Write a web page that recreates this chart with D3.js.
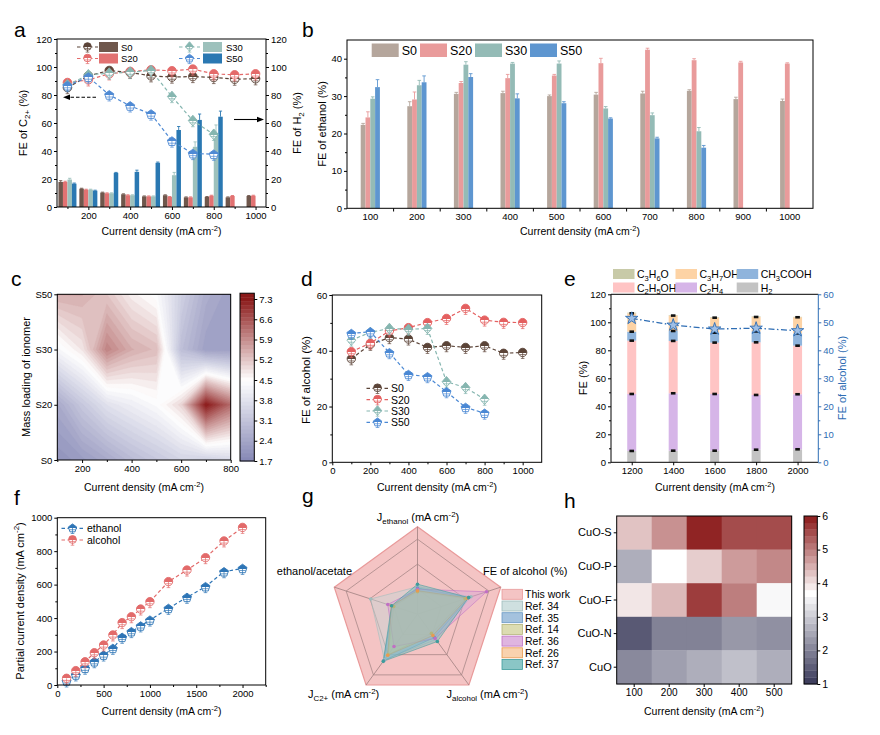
<!DOCTYPE html>
<html><head><meta charset="utf-8">
<script src="https://cdn.jsdelivr.net/npm/d3@7/dist/d3.min.js"></script>
<style>
body{margin:0;background:#fff;}
svg{display:block;}
text{font-family:"Liberation Sans",Arial,Helvetica,sans-serif;}
</style></head><body>
<svg id="fig" width="880" height="735" xmlns="http://www.w3.org/2000/svg"></svg>
<script>
// ================= DATA =================
// Panel a
const aX = [100,200,300,400,500,600,700,800,900,1000];
const aC2S0  = [85.3,93.7,97.5,96.1,93.7,92.8,93.2,92.5,91.3,91.6];
const aC2S20 = [88.9,90.8,95.1,96.8,98.0,97.3,98.5,95.1,94.4,95.1];
const aC2S30 = [87.2,94.4,95.6,96.3,97.5,78.9,61.7,51.9];
const aC2S50 = [86.7,92.8,80.1,72.2,66.4,47.1,38.2,37.7];
const aH2S0  = [17.9,13.1,10.3,9.1,7.6,8.4,6.9,7.2,6.9,7.9];
const aH2S20 = [17.9,12.4,9.8,8.4,7.6,7.2,6.9,8.1,7.9,8.1];
const aH2S30 = [19.6,12.4,9.8,8.4,7.6,22.7,43.0,52.6];
const aH2S50 = [16.7,11.7,24.4,25.1,31.6,55.0,62.2,64.5];
const aH2ErrS0  = [0.9,0.3,0.3,0.3,0.3,0.3,0.3,0.3,0.3,0.3];
const aH2ErrS20 = [0.5,0.3,0.3,0.3,0.3,0.3,0.3,0.3,0.3,0.3];
const aH2ErrS30 = [0.9,0.3,0.3,0.3,0.3,2.0,3.5,6.0];
const aH2ErrS50 = [0.4,0.3,0.3,1.2,0.5,2.5,4.2,4.0];
// Panel b
const bCats = ["100","200","300","400","500","600","700","800","900","1000"];
const bS0  = [22.3,27.3,30.6,30.8,30.0,30.4,30.7,31.4,29.2,28.7];
const bS20 = [24.3,29.1,33.5,34.8,35.5,38.8,42.4,39.6,39.0,38.7];
const bS30 = [29.3,32.9,38.4,38.7,38.7,26.7,24.9,20.6];
const bS50 = [32.4,33.7,35.1,29.4,28.1,24.0,18.7,16.2];
const bErrS0  = [0.4,1.2,0.4,0.5,0.3,0.6,0.6,0.3,0.5,0.5];
const bErrS20 = [1.5,2.0,0.4,1.0,0.3,1.3,0.4,0.4,0.3,0.2];
const bErrS30 = [0.5,1.3,0.8,0.3,0.7,0.5,0.6,1.0];
const bErrS50 = [2.0,1.7,0.9,1.2,0.4,0.2,0.3,0.6];
// Panel c (rows S0, S20, S30, S50; columns 100..800)
const cX = [100,200,300,400,500,600,700,800];
const cRows = ["S0","S20","S30","S50"];
const cZS0  = [2.0,2.2,2.5,2.9,3.2,3.5,3.4,3.6];
const cZS20 = [2.5,3.2,3.8,4.1,4.4,5.0,7.3,6.3];
const cZS30 = [4.3,4.8,6.0,5.5,5.3,3.0,2.3,2.3];
const cZS50 = [5.5,5.5,5.2,4.7,4.4,3.4,2.6,2.3];
const cBarTicks = [1.7,2.4,3.1,3.8,4.5,5.2,5.9,6.6,7.3];
// Panel d
const dX = [100,200,300,400,500,600,700,800,900,1000];
const dS0  = [37.1,42.3,44.7,44.2,41.2,41.8,41.2,41.8,39.1,39.4];
const dS20 = [39.7,42.7,47.1,48.3,50.1,51.6,55.2,51.0,50.2,50.1];
const dS30 = [43.8,46.6,48.0,47.7,48.0,28.9,26.8,22.6];
const dS50 = [46.2,46.8,39.3,31.5,30.7,25.3,19.7,17.6];
// Panel e
const eX = [1200,1400,1600,1800,2000];
const eH2      = [8.1,8.3,8.3,9.0,9.3];
const eC2H4    = [40.7,41.0,40.5,39.1,39.3];
const eC2H5OH  = [38.1,37.4,36.7,37.6,34.7];
const eCH3COOH = [6.4,7.1,7.1,7.8,8.8];
const eC3H7OH  = [13.1,11.0,10.7,10.3,11.5];
const eC3H6O   = [0.5,0.4,0.4,0.4,0.3];
const eAlcohol = [51.4,49.0,47.6,47.9,47.0];
// Panel f
const fX = [100,200,300,400,500,600,700,800,900,1000,1200,1400,1600,1800,2000];
const fEthanol = [24,60,100,139,179,219,285,319,353,388,458,524,588,677,697];
const fAlcohol = [40,86,139,193,239,299,373,408,454,498,618,687,761,861,942];
// Panel g (radar, grid ring = 1 unit)
const gThisWork = [3.5,3.5,3.5,3.5,3.5];
const gRef34 = [1.1,2.25,1.25,2.25,1.97];
const gRef35 = [1.05,2.15,1.15,2.3,1.05];
const gRef14 = [0.9,2.0,0.95,2.0,1.0];
const gRef36 = [1.0,2.9,1.2,1.6,1.25];
const gRef26 = [0.94,2.1,1.05,2.03,1.1];
const gRef37 = [1.2,2.15,1.35,2.33,1.09];
// Panel h
const hCols = ["100","200","300","400","500"];
const hRows = ["CuO-S","CuO-P","CuO-F","CuO-N","CuO"];
const hCuOS = [4.3,4.8,5.9,5.5,5.5];
const hCuOP = [2.6,3.7,4.2,4.7,4.9];
const hCuOF = [3.95,4.4,5.65,5.0,3.6];
const hCuON = [1.45,2.0,2.0,2.3,2.2];
const hCuO  = [2.1,2.4,2.6,2.85,2.6];
const hTicks = [1,2,3,4,5,6];

// ================= HELPERS =================
const svg = d3.select("#fig");
const defs = svg.append("defs");
const FS = 9.5;
const FONT = '"Liberation Sans",Arial,Helvetica,sans-serif';
const XT = [["Current density (mA cm","n"],["-2","sup"],[")","n"]];
const fmtD = d3.format("d");

function rich(t, parts, size){
  let shift = 0;
  parts.forEach(p=>{
    const s=p[0], k=p[1];
    const target = k==="sub" ? 0.28*size : (k==="sup" ? -0.38*size : 0);
    const ts = t.append("tspan").text(s).attr("dy",(target-shift).toFixed(2));
    if(k!=="n") ts.attr("font-size",(size*0.72).toFixed(2));
    shift = target;
  });
}
function label(g,x,y,parts,o={}){
  const size=o.size||10;
  const t=g.append("text").attr("x",x).attr("y",y).attr("font-size",size)
    .attr("text-anchor",o.anchor||"start").attr("fill",o.fill||"#000");
  if(o.rot!==undefined) t.attr("transform",`rotate(${o.rot},${x},${y})`);
  if(typeof parts==="string") t.text(parts); else rich(t,parts,size);
  return t;
}
function axis(g,gen,tx,ty,o={}){
  const col=o.color||"#000";
  const a=g.append("g").attr("transform",`translate(${tx},${ty})`).call(gen);
  a.selectAll("text").attr("font-size",o.size||FS).attr("fill",col).style("font-family",FONT);
  a.selectAll("line").attr("stroke",col);
  a.select(".domain").attr("stroke",col);
  if(o.noDomain) a.select(".domain").remove();
  return a;
}
function frame(g,x0,y0,x1,y1){
  g.append("rect").attr("x",x0).attr("y",y0).attr("width",x1-x0).attr("height",y1-y0)
    .attr("fill","none").attr("stroke","#000").attr("stroke-width",1);
}
function halfGrad(id,color){
  const lg=defs.append("linearGradient").attr("id",id).attr("x1",0).attr("y1",0).attr("x2",0).attr("y2",1);
  lg.append("stop").attr("offset","52%").attr("stop-color",color);
  lg.append("stop").attr("offset","52%").attr("stop-color","#fff");
  return `url(#${id})`;
}
function shapePath(shape,r){
  if(shape==="circle") return d3.symbol(d3.symbolCircle,Math.PI*r*r)();
  if(shape==="diamond") return `M0,${-r*1.25}L${r*1.05},0L0,${r*1.25}L${-r*1.05},0Z`;
  const pts=d3.range(5).map(k=>{const a=-Math.PI/2+k*2*Math.PI/5;return [r*1.12*Math.cos(a),r*1.12*Math.sin(a)+0.5];});
  return "M"+pts.map(p=>p[0].toFixed(2)+","+p[1].toFixed(2)).join("L")+"Z";
}
function marker(g,shape,x,y,color,fill,r){
  r=r||4.2;
  const m=g.append("g").attr("transform",`translate(${x},${y})`);
  m.append("path").attr("d",shapePath(shape,r)).attr("fill",fill).attr("stroke",color).attr("stroke-width",0.9);
  m.append("path").attr("d",`M0,0V${r+1.8}M-1.8,${r+1.8}H1.8M${-r*0.75},${r*0.5}H${r*0.75}`)
    .attr("stroke",color).attr("stroke-width",0.7).attr("fill","none");
}
function panelLetter(x,y,s){ svg.append("text").attr("x",x).attr("y",y).attr("font-size",21).text(s); }

// ================= PANEL a =================
{
const g=svg.append("g");
const x=d3.scaleLinear().domain([50,1050]).range([57,266]);
const y=d3.scaleLinear().domain([0,120]).range([207,39]);
const ser=[
 {k:"S0", c2:aC2S0, h2:aH2S0, er:aH2ErrS0, bar:"#6f574c",ln:"#5b4438",sh:"circle"},
 {k:"S20",c2:aC2S20,h2:aH2S20,er:aH2ErrS20,bar:"#e27272",ln:"#e46a6a",sh:"circle"},
 {k:"S30",c2:aC2S30,h2:aH2S30,er:aH2ErrS30,bar:"#9dc1bc",ln:"#86b6b0",sh:"diamond"},
 {k:"S50",c2:aC2S50,h2:aH2S50,er:aH2ErrS50,bar:"#2a78b2",ln:"#4f8ad4",sh:"pent"}
];
const bw=4.5;
ser.forEach((s,i)=>{
  const xs=j=>x(aX[j])-2*bw+i*bw;
  g.append("g").selectAll("rect").data(s.h2).join("rect")
   .attr("x",(d,j)=>xs(j)).attr("y",d=>y(d)).attr("width",bw).attr("height",d=>y(0)-y(d)).attr("fill",s.bar);
  g.append("g").selectAll("path").data(s.h2).join("path")
   .attr("d",(d,j)=>{const cx=xs(j)+bw/2,t=y(d+s.er[j]);return `M${cx},${y(d)}V${t}M${cx-1.6},${t}H${cx+1.6}`;})
   .attr("stroke",s.bar).attr("stroke-width",0.9).attr("fill","none");
});
ser.forEach((s,i)=>{
  s.fill=halfGrad("ga"+i,s.ln);
  g.append("path").datum(s.c2).attr("d",d3.line().x((d,j)=>x(aX[j])).y(d=>y(d)))
   .attr("fill","none").attr("stroke",s.ln).attr("stroke-width",1.2).attr("stroke-dasharray","3.5,2.5");
});
ser.forEach(s=>{ s.c2.forEach((d,j)=>marker(g,s.sh,x(aX[j]),y(d),s.ln,s.fill,4.3)); });
frame(g,57,39,266,207);
axis(g,d3.axisBottom(x).tickValues([200,400,600,800,1000]).tickFormat(fmtD).tickSize(3).tickSizeOuter(0).tickPadding(2),0,207,{noDomain:true});
axis(g,d3.axisBottom(x).tickValues([100,300,500,700,900]).tickSize(2).tickFormat(""),0,207,{noDomain:true});
axis(g,d3.axisLeft(y).tickValues(d3.range(0,121,20)).tickSize(3).tickPadding(2),57,0,{noDomain:true});
axis(g,d3.axisLeft(y).tickValues(d3.range(10,120,20)).tickSize(2).tickFormat(""),57,0,{noDomain:true});
axis(g,d3.axisRight(y).tickValues(d3.range(0,121,20)).tickSize(3).tickPadding(2),266,0,{noDomain:true});
axis(g,d3.axisRight(y).tickValues(d3.range(10,120,20)).tickSize(2).tickFormat(""),266,0,{noDomain:true});
// legend
const leg=[{s:ser[0],lx:77,sx:99,tx:121,y:47},{s:ser[1],lx:77,sx:99,tx:121,y:58.5},
           {s:ser[2],lx:179,sx:203,tx:226,y:47},{s:ser[3],lx:179,sx:203,tx:226,y:58.5}];
leg.forEach(l=>{
  g.append("line").attr("x1",l.lx).attr("x2",l.lx+21).attr("y1",l.y).attr("y2",l.y)
   .attr("stroke",l.s.ln).attr("stroke-width",1.2).attr("stroke-dasharray","3.5,2.5");
  marker(g,l.s.sh,l.lx+10.5,l.y-0.5,l.s.ln,l.s.fill,3.8);
  g.append("rect").attr("x",l.sx).attr("y",l.y-5).attr("width",19).attr("height",10).attr("fill",l.s.bar);
  label(g,l.tx,l.y+3.5,l.s.k,{size:9.5});
});
// arrows
g.append("line").attr("x1",96).attr("x2",68).attr("y1",97.3).attr("y2",97.3).attr("stroke","#000").attr("stroke-width",1.1).attr("stroke-dasharray","3.5,2");
g.append("path").attr("d","M63,97.3L70,94.5L70,100.1Z").attr("fill","#000");
g.append("line").attr("x1",234).attr("x2",258).attr("y1",119.5).attr("y2",119.5).attr("stroke","#000").attr("stroke-width",1.1);
g.append("path").attr("d","M264,119.5L257,116.7L257,122.3Z").attr("fill","#000");
label(g,27,123,[["FE of C","n"],["2+","sub"],[" (%)","n"]],{size:11,anchor:"middle",rot:-90});
label(g,300.5,123,[["FE of H","n"],["2","sub"],[" (%)","n"]],{size:11,anchor:"middle",rot:-90});
label(g,161.5,235,XT,{size:10.5,anchor:"middle"});
panelLetter(14,37,"a");
}

// ================= PANEL b =================
{
const g=svg.append("g");
const x=d3.scaleBand().domain(bCats).range([347,813]).padding(0);
const y=d3.scaleLinear().domain([0,45]).range([208.3,40]);
const ser=[
 {k:"S0", v:bS0, e:bErrS0, c:"#b5a69c"},
 {k:"S20",v:bS20,e:bErrS20,c:"#e99b9b"},
 {k:"S30",v:bS30,e:bErrS30,c:"#94bbb6"},
 {k:"S50",v:bS50,e:bErrS50,c:"#5e96d0"}
];
const bw=4.8;
ser.forEach((s,i)=>{
  const xs=j=>x(bCats[j])+x.bandwidth()/2-2*bw+i*bw;
  g.append("g").selectAll("path").data(s.v).join("path")
   .attr("d",(d,j)=>{const cx=xs(j)+bw/2,t=y(d+s.e[j]);return `M${cx},${y(d)}V${t}M${cx-1.8},${t}H${cx+1.8}`;})
   .attr("stroke",s.c).attr("stroke-width",0.9).attr("fill","none");
  g.append("g").selectAll("rect").data(s.v).join("rect")
   .attr("x",(d,j)=>xs(j)).attr("y",d=>y(d)).attr("width",bw).attr("height",d=>y(0)-y(d)).attr("fill",s.c);
});
frame(g,347,40,813,208.3);
axis(g,d3.axisBottom(x).tickSize(0).tickPadding(5),0,208.3,{noDomain:true});
g.append("g").selectAll("line").data(bCats.slice(1)).join("line")
 .attr("x1",d=>x(d)).attr("x2",d=>x(d)).attr("y1",208.3).attr("y2",211.5).attr("stroke","#000");
axis(g,d3.axisLeft(y).tickValues([0,10,20,30,40]).tickSize(3).tickPadding(2),347,0,{noDomain:true});
axis(g,d3.axisLeft(y).tickValues([5,15,25,35]).tickSize(2).tickFormat(""),347,0,{noDomain:true});
const lx=[371.7,420,475,530];
ser.forEach((s,i)=>{
  g.append("rect").attr("x",lx[i]).attr("y",43.5).attr("width",27).attr("height",13.5).attr("fill",s.c);
  label(g,lx[i]+30,54.5,s.k,{size:12.5});
});
label(g,326,124,"FE of ethanol (%)",{size:11,anchor:"middle",rot:-90});
label(g,580,235,XT,{size:10.5,anchor:"middle"});
panelLetter(302,37,"b");
}

// ================= PANEL c =================
{
const g=svg.append("g");
const x=d3.scaleLinear().domain([100,800]).range([57.3,230.7]);
const y=d3.scaleLinear().domain([0,3]).range([460,294.3]);
const col=d3.scaleLinear().domain([1.7,4.5,7.3]).range(["#8587b5","#ffffff","#8b1a1a"]).clamp(true);
const grid=[cZS0,cZS20,cZS30,cZS50];
const vals=[].concat(...grid);
const th=d3.range(0,41).map(k=>1.7+k*0.14);
const contours=d3.contours().size([cX.length,cRows.length]).thresholds(th)(vals);
const proj=d3.geoTransform({point:function(px,py){this.stream.point(x(cX[0]+(px-0.5)*(cX[1]-cX[0])),y(py-0.5));}});
const path=d3.geoPath(proj);
defs.append("clipPath").attr("id","clipC").append("rect").attr("x",57.3).attr("y",294.3).attr("width",173.4).attr("height",165.7);
g.append("g").attr("clip-path","url(#clipC)").selectAll("path").data(contours).join("path")
 .attr("d",path).attr("fill",d=>col(d.value+0.07)).attr("stroke",d=>col(d.value+0.07)).attr("stroke-width",0.3);
frame(g,57.3,294.3,230.7,460);
axis(g,d3.axisBottom(x).tickValues([200,400,600,800]).tickSize(3).tickPadding(2),0,460,{noDomain:true});
axis(g,d3.axisBottom(x).tickValues([100,300,500,700]).tickSize(2).tickFormat(""),0,460,{noDomain:true});
axis(g,d3.axisLeft(y).tickValues([0,1,2,3]).tickFormat(i=>cRows[i]).tickSize(3).tickPadding(2),57.3,0,{noDomain:true});
// colorbar
const cb=d3.scaleLinear().domain([1.7,7.3]).range([461,299]);
const top=7.5, nb=42;
const bands=d3.range(nb).map(k=>1.7+(top-1.7)*k/nb);
g.append("g").selectAll("rect").data(bands).join("rect")
 .attr("x",240).attr("width",14.3).attr("y",d=>cb(d+(top-1.7)/nb)).attr("height",d=>cb(d)-cb(d+(top-1.7)/nb)+0.4)
 .attr("fill",d=>col(d+(top-1.7)/nb/2));
g.append("rect").attr("x",240).attr("y",cb(top)).attr("width",14.3).attr("height",cb(1.7)-cb(top)).attr("fill","none").attr("stroke","#000");
axis(g,d3.axisRight(cb).tickValues(cBarTicks).tickFormat(d3.format(".1f")).tickSize(3).tickPadding(2),254.3,0,{noDomain:true});
label(g,29.5,377,"Mass loading of ionomer",{size:11,anchor:"middle",rot:-90});
label(g,144,491,XT,{size:10.5,anchor:"middle"});
panelLetter(11,286,"c");
}

// ================= PANEL d =================
{
const g=svg.append("g");
const x=d3.scaleLinear().domain([0,1100]).range([332.3,541.7]);
const y=d3.scaleLinear().domain([0,60]).range([462.3,295]);
const ser=[
 {k:"S0", v:dS0, c:"#5b4438",sh:"circle"},
 {k:"S20",v:dS20,c:"#e46060",sh:"circle"},
 {k:"S30",v:dS30,c:"#86b6b0",sh:"diamond"},
 {k:"S50",v:dS50,c:"#4a88d4",sh:"pent"}
];
ser.forEach((s,i)=>{
  s.fill=halfGrad("gd"+i,s.c);
  g.append("path").datum(s.v).attr("d",d3.line().x((d,j)=>x(dX[j])).y(d=>y(d)))
   .attr("fill","none").attr("stroke",s.c).attr("stroke-width",1.2).attr("stroke-dasharray","3.5,2.5");
});
ser.forEach(s=>s.v.forEach((d,j)=>marker(g,s.sh,x(dX[j]),y(d),s.c,s.fill,4.2)));
frame(g,332.3,295,541.7,462.3);
axis(g,d3.axisBottom(x).tickValues(d3.range(0,1001,200)).tickFormat(fmtD).tickSize(3).tickPadding(2),0,462.3,{noDomain:true});
axis(g,d3.axisBottom(x).tickValues(d3.range(100,1001,200)).tickSize(2).tickFormat(""),0,462.3,{noDomain:true});
axis(g,d3.axisLeft(y).tickValues([0,20,40,60]).tickSize(3).tickPadding(2),332.3,0,{noDomain:true});
axis(g,d3.axisLeft(y).tickValues([10,30,50]).tickSize(2).tickFormat(""),332.3,0,{noDomain:true});
const ly=[388.3,399.7,411,422.3];
ser.forEach((s,i)=>{
  g.append("line").attr("x1",366.5).attr("x2",388).attr("y1",ly[i]).attr("y2",ly[i])
   .attr("stroke",s.c).attr("stroke-width",1.2).attr("stroke-dasharray","3.5,2.5");
  marker(g,s.sh,377.5,ly[i]-0.5,s.c,s.fill,3.9);
  label(g,391,ly[i]+3.8,s.k,{size:10.5});
});
label(g,310,380,"FE of alcohol (%)",{size:11.5,anchor:"middle",rot:-90});
label(g,437,491,XT,{size:10.5,anchor:"middle"});
panelLetter(301,286,"d");
}

// ================= PANEL e =================
{
const g=svg.append("g");
const x=d3.scaleLinear().domain([1100,2100]).range([611,818.3]);
const y=d3.scaleLinear().domain([0,120]).range([462.3,294.3]);
const y2=d3.scaleLinear().domain([0,60]).range([462.3,294.3]);
const keys=["H2","C2H4","C2H5OH","CH3COOH","C3H7OH","C3H6O"];
const src={H2:eH2,C2H4:eC2H4,C2H5OH:eC2H5OH,CH3COOH:eCH3COOH,C3H7OH:eC3H7OH,C3H6O:eC3H6O};
const rows=eX.map((cx,j)=>{const o={x:cx};keys.forEach(k=>o[k]=src[k][j]);return o;});
const stack=d3.stack().keys(keys)(rows);
const cols={H2:"#c3c3c3",C2H4:"#d6b5e8",C2H5OH:"#ffc4c4",CH3COOH:"#8fb4dc",C3H7OH:"#fdd3a5",C3H6O:"#c8caa8"};
const bw=9;
stack.forEach(layer=>{
  g.append("g").selectAll("rect").data(layer).join("rect")
   .attr("x",d=>x(d.data.x)-bw/2).attr("width",bw).attr("y",d=>y(d[1])).attr("height",d=>y(d[0])-y(d[1]))
   .attr("fill",cols[layer.key]);
});
stack.slice(0,5).forEach(layer=>{
  g.append("g").selectAll("rect").data(layer).join("rect")
   .attr("x",d=>x(d.data.x)-2.3).attr("width",4.6).attr("y",d=>y(d[1])-1.3).attr("height",2.6).attr("fill","#111");
});
g.append("path").datum(eAlcohol).attr("d",d3.line().x((d,j)=>x(eX[j])).y(d=>y2(d)))
 .attr("fill","none").attr("stroke","#2e6db4").attr("stroke-width",1.3).attr("stroke-dasharray","6,2.5,1.5,2.5");
g.append("g").selectAll("path").data(eAlcohol).join("path")
 .attr("transform",(d,j)=>`translate(${x(eX[j])},${y2(d)})`).attr("d",d3.symbol(d3.symbolStar,48)())
 .attr("fill","#9fbfe6").attr("stroke","#2e6db4").attr("stroke-width",0.9);
g.append("path").attr("d","M611,294.3H818.3").attr("stroke","#000");
g.append("path").attr("d","M611,294.3V462.3H818.3").attr("stroke","#000").attr("fill","none");
g.append("path").attr("d","M818.3,294.3V462.3").attr("stroke","#2e6db4");
axis(g,d3.axisBottom(x).tickValues(eX).tickFormat(fmtD).tickSize(3).tickPadding(2),0,462.3,{noDomain:true});
axis(g,d3.axisLeft(y).tickValues(d3.range(0,121,20)).tickSize(3).tickPadding(2),611,0,{noDomain:true});
axis(g,d3.axisLeft(y).tickValues(d3.range(10,120,20)).tickSize(2).tickFormat(""),611,0,{noDomain:true});
axis(g,d3.axisRight(y2).tickValues(d3.range(0,61,10)).tickSize(3).tickPadding(2),818.3,0,{noDomain:true,color:"#2e6db4"});
axis(g,d3.axisRight(y2).tickValues(d3.range(5,60,10)).tickSize(2).tickFormat(""),818.3,0,{noDomain:true,color:"#2e6db4"});
const legItems=[
 {k:"C3H6O",p:[["C","n"],["3","sub"],["H","n"],["6","sub"],["O","n"]],sx:613,y:274},
 {k:"C3H7OH",p:[["C","n"],["3","sub"],["H","n"],["7","sub"],["OH","n"]],sx:675.5,y:274},
 {k:"CH3COOH",p:[["CH","n"],["3","sub"],["COOH","n"]],sx:736.7,y:274},
 {k:"C2H5OH",p:[["C","n"],["2","sub"],["H","n"],["5","sub"],["OH","n"]],sx:613,y:287.5},
 {k:"C2H4",p:[["C","n"],["2","sub"],["H","n"],["4","sub"]],sx:675.5,y:287.5},
 {k:"H2",p:[["H","n"],["2","sub"]],sx:736.7,y:287.5}
];
legItems.forEach(l=>{
  g.append("rect").attr("x",l.sx).attr("y",l.y-5).attr("width",21.5).attr("height",10).attr("fill",cols[l.k]);
  label(g,l.sx+24,l.y+4,l.p,{size:10.5});
});
label(g,587,378,"FE (%)",{size:11,anchor:"middle",rot:-90});
label(g,846,378,"FE of alcohol (%)",{size:11,anchor:"middle",rot:-90,fill:"#2e6db4"});
label(g,715,491,XT,{size:10.5,anchor:"middle"});
panelLetter(564,286,"e");
}

// ================= PANEL f =================
{
const g=svg.append("g");
const x=d3.scaleLinear().domain([0,2250]).range([57.3,265.7]);
const y=d3.scaleLinear().domain([0,1000]).range([685,517.7]);
const ser=[
 {k:"ethanol",v:fEthanol,c:"#2e75b6",sh:"pent"},
 {k:"alcohol",v:fAlcohol,c:"#e26a6a",sh:"circle"}
];
ser.forEach((s,i)=>{
  s.fill=halfGrad("gf"+i,s.c);
  g.append("path").datum(s.v).attr("d",d3.line().x((d,j)=>x(fX[j])).y(d=>y(d)))
   .attr("fill","none").attr("stroke",s.c).attr("stroke-width",1.2).attr("stroke-dasharray","3.5,2.5");
});
ser.forEach(s=>s.v.forEach((d,j)=>marker(g,s.sh,x(fX[j]),y(d),s.c,s.fill,4.2)));
frame(g,57.3,517.7,265.7,685);
axis(g,d3.axisBottom(x).tickValues(d3.range(0,2001,500)).tickFormat(fmtD).tickSize(3).tickPadding(2),0,685,{noDomain:true});
axis(g,d3.axisBottom(x).tickValues(d3.range(250,2251,500)).tickSize(2).tickFormat(""),0,685,{noDomain:true});
axis(g,d3.axisLeft(y).tickValues(d3.range(0,1001,200)).tickFormat(fmtD).tickSize(3).tickPadding(2),57.3,0,{noDomain:true});
axis(g,d3.axisLeft(y).tickValues(d3.range(100,1000,200)).tickSize(2).tickFormat(""),57.3,0,{noDomain:true});
const ly=[528.3,540];
ser.forEach((s,i)=>{
  g.append("line").attr("x1",61.5).attr("x2",83.5).attr("y1",ly[i]).attr("y2",ly[i])
   .attr("stroke",s.c).attr("stroke-width",1.2).attr("stroke-dasharray","3.5,2.5");
  marker(g,s.sh,72.5,ly[i]-0.5,s.c,s.fill,3.9);
  label(g,87,ly[i]+3.8,s.k,{size:10.5});
});
label(g,23.5,601,[["Partial current density (mA cm","n"],["-2","sup"],[")","n"]],{size:11,anchor:"middle",rot:-90});
label(g,161.5,714.5,XT,{size:10.5,anchor:"middle"});
panelLetter(14,505,"f");
}

// ================= PANEL g =================
{
const g=svg.append("g");
const C=[417.5,614.2];
const r=d3.scaleLinear().domain([0,3.5]).range([0,87.5]);
const ang=i=>-Math.PI/2+i*2*Math.PI/5;
const pt=(i,v)=>[C[0]+r(v)*Math.cos(ang(i)),C[1]+r(v)*Math.sin(ang(i))];
const poly=vals=>d3.line().curve(d3.curveLinearClosed)(vals.map((v,i)=>pt(i,v)));
const refs=[
 {k:"Ref. 34",v:gRef34,c:"#c3d8d8",s:"#9fbcbc"},
 {k:"Ref. 35",v:gRef35,c:"#8db3d6",s:"#6a98c4"},
 {k:"Ref. 14",v:gRef14,c:"#d3d39f",s:"#b5b57a"},
 {k:"Ref. 36",v:gRef36,c:"#d7a3d8",s:"#c070c4"},
 {k:"Ref. 26",v:gRef26,c:"#f8c79a",s:"#e89a50"},
 {k:"Ref. 37",v:gRef37,c:"#6db8b8",s:"#3f9c9c"}
];
g.append("path").attr("d",poly(gThisWork)).attr("fill","#f4c4c4").attr("stroke","#e99a9a").attr("stroke-width",1.2);
[1,2,3].forEach(v=>g.append("path").attr("d",poly([v,v,v,v,v])).attr("fill","none").attr("stroke","#a88888").attr("stroke-width",0.8));
d3.range(5).forEach(i=>{const p=pt(i,3.5);g.append("line").attr("x1",C[0]).attr("y1",C[1]).attr("x2",p[0]).attr("y2",p[1]).attr("stroke","#a08080").attr("stroke-width",0.8);});
refs.forEach(s=>{
  g.append("path").attr("d",poly(s.v)).attr("fill",s.c).attr("fill-opacity",0.45).attr("stroke",s.s).attr("stroke-opacity",0.7).attr("stroke-width",0.8);
});
refs.forEach(s=>{
  g.append("g").selectAll("circle").data(s.v).join("circle")
   .attr("cx",(d,i)=>pt(i,d)[0]).attr("cy",(d,i)=>pt(i,d)[1]).attr("r",1.8).attr("fill",s.s);
});
label(g,418,521,[["J","n"],["ethanol","sub"],[" (mA cm","n"],["-2","sup"],[")","n"]],{size:11,anchor:"middle"});
label(g,483,575,"FE of alcohol (%)",{size:11});
label(g,352,575,"ethanol/acetate",{size:11,anchor:"end"});
label(g,308,698,[["J","n"],["C2+","sub"],[" (mA cm","n"],["-2","sup"],[")","n"]],{size:11});
label(g,446.5,698,[["J","n"],["alcohol","sub"],[" (mA cm","n"],["-2","sup"],[")","n"]],{size:11});
const all=[{k:"This work",c:"#f4c4c4",s:"#e99a9a",op:1}].concat(refs.map(d=>({k:d.k,c:d.c,s:d.s,op:0.8})));
all.forEach((s,i)=>{
  const yy=594.3+i*11.7;
  g.append("rect").attr("x",502).attr("y",yy-5).attr("width",20.5).attr("height",10).attr("fill",s.c).attr("fill-opacity",s.op).attr("stroke",s.s).attr("stroke-width",0.8);
  label(g,525,yy+3.8,s.k,{size:10.5});
});
panelLetter(302,503,"g");
}

// ================= PANEL h =================
{
const g=svg.append("g");
const x=d3.scaleBand().domain(hCols).range([616.7,791.7]);
const y=d3.scaleBand().domain(hRows).range([516,684]);
const col=d3.scaleLinear().domain([1,3.7,6]).range(["#383858","#ffffff","#8b1a1a"]).clamp(true);
const grid=[hCuOS,hCuOP,hCuOF,hCuON,hCuO];
const cells=[];
grid.forEach((row,i)=>row.forEach((v,j)=>cells.push({r:hRows[i],c:hCols[j],v})));
g.append("g").selectAll("rect").data(cells).join("rect")
 .attr("x",d=>x(d.c)).attr("y",d=>y(d.r)).attr("width",x.bandwidth()+0.3).attr("height",y.bandwidth()+0.3).attr("fill",d=>col(d.v));
frame(g,616.7,516,791.7,684);
axis(g,d3.axisBottom(x).tickSize(3).tickPadding(2),0,684,{noDomain:true,size:10});
axis(g,d3.axisLeft(y).tickSize(3).tickPadding(2),616.7,0,{noDomain:true,size:11});
const cb=d3.scaleLinear().domain([1,6]).range([684,516]);
const nb=25, step=5/nb;
g.append("g").selectAll("rect").data(d3.range(nb).map(k=>1+k*step)).join("rect")
 .attr("x",804).attr("width",13.3).attr("y",d=>cb(d+step)).attr("height",d=>cb(d)-cb(d+step)+0.3).attr("fill",d=>col(d+step/2));
g.append("rect").attr("x",804).attr("y",516).attr("width",13.3).attr("height",168).attr("fill","none").attr("stroke","#000");
axis(g,d3.axisRight(cb).tickValues(hTicks).tickFormat(fmtD).tickSize(3).tickPadding(2),817.3,0,{noDomain:true,size:10.5});
label(g,704,714.5,XT,{size:10.5,anchor:"middle"});
panelLetter(564,508,"h");
}
</script></body></html>
